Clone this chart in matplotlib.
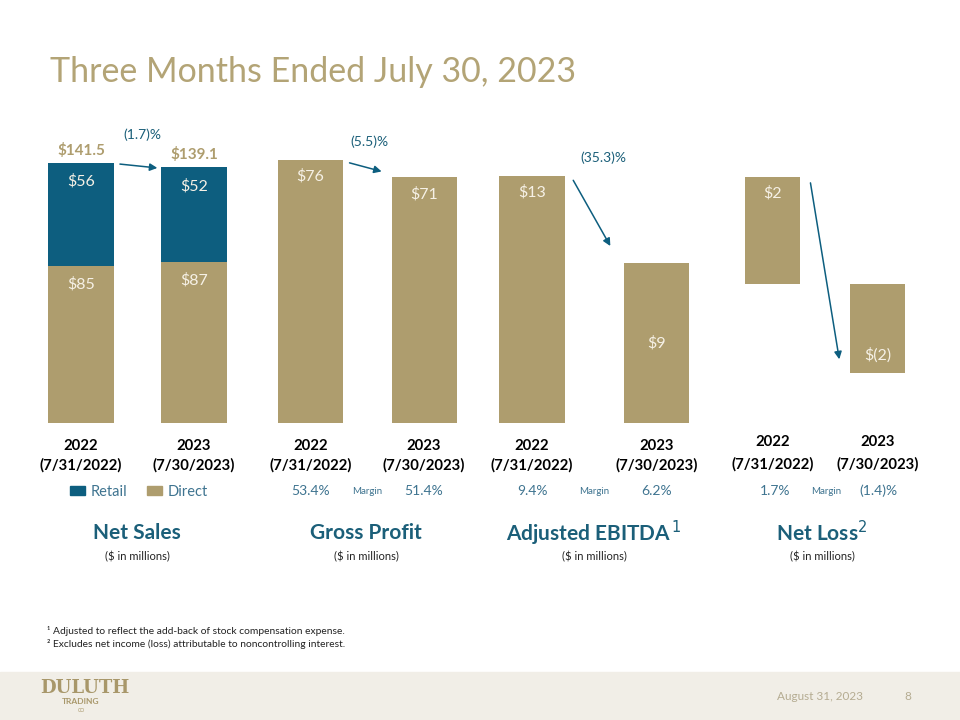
import matplotlib
matplotlib.use("Agg")
import matplotlib.pyplot as plt
import matplotlib.patches as mpatches

plt.rcParams['font.family'] = ['Lato', 'DejaVu Sans']

TAN = '#AE9D6E'
BLUE = '#0D5E7F'
TEAL = '#1B5F79'
PCT = '#3F7490'
INNER = '#F6F1E6'

# ---------------- data ----------------
periods = ["2022\n(7/31/2022)", "2023\n(7/30/2023)"]

sales_retail = [56, 52]
sales_direct = [85, 87]
sales_total = [141.5, 139.1]
sales_change = "(1.7)%"

gross_profit = [76, 71]
gross_margin = ["53.4%", "51.4%"]
gross_change = "(5.5)%"

adj_ebitda = [13.3, 8.6]
ebitda_labels = ["$13", "$9"]
ebitda_margin = ["9.4%", "6.2%"]
ebitda_change = "(35.3)%"

net_loss = [2.4, -2.0]
loss_labels = ["$2", "$(2)"]
loss_margin = ["1.7%", "(1.4)%"]

panel_titles = ["Net Sales", "Gross Profit", "Adjusted EBITDA$^{\\,1}$", "Net Loss$^{2}$"]

# ---------------- figure ----------------
W, H = 960, 720
fig = plt.figure(figsize=(9.6, 7.2), dpi=100)


def px_axes(x0, x1, y_top, y_bot):
    ax = fig.add_axes([x0 / W, 1 - y_bot / H, (x1 - x0) / W, (y_bot - y_top) / H])
    for s in ax.spines.values():
        s.set_visible(False)
    ax.set_yticks([])
    ax.tick_params(axis='x', length=0, pad=11.5)
    return ax


def set_ticks(ax, ls=1.45):
    ax.set_xticks([0, 1])
    ax.set_xticklabels(periods, fontsize=10.7, fontweight='bold', color='black', linespacing=ls)


def inner(ax, x, y, txt, dy):
    ax.annotate(txt, (x, y), xytext=(0, dy), textcoords='offset points',
                ha='center', va='center', color=INNER, fontsize=11.5)


def arrow(ax, p0, p1):
    ax.annotate('', xy=p1, xytext=p0,
                arrowprops=dict(arrowstyle='-|>', color=BLUE, lw=1.1, mutation_scale=11))


def margin_row(y_px, xc, left, right):
    fig.text(xc[0] / W, 1 - y_px / H, left, ha='center', va='center', color=PCT, fontsize=10)
    fig.text((xc[0] + xc[1]) / 2 / W, 1 - y_px / H, "Margin", ha='center', va='center',
             color=PCT, fontsize=7)
    fig.text(xc[1] / W, 1 - y_px / H, right, ha='center', va='center', color=PCT, fontsize=10)


# Panel 1 - Net Sales
ax1 = px_axes(25, 250, 140, 423)
ax1.set_xlim(-0.496, 1.496)
ax1.set_ylim(0, 153.4)
x = [0, 1]
ax1.bar(x, sales_direct, width=0.584, color=TAN)
ax1.bar(x, sales_retail, width=0.584, bottom=sales_direct, color=BLUE)
for i in x:
    inner(ax1, i, sales_total[i], f"${sales_retail[i]}", -14)
    inner(ax1, i, sales_direct[i], f"${sales_direct[i]}", -13)
    ax1.annotate(f"${sales_total[i]}", (i, sales_total[i]), xytext=(0, 8.5),
                 textcoords='offset points', ha='center', va='center',
                 color=TAN, fontsize=11, fontweight='bold')
arrow(ax1, (0.32, sales_total[0] - 1), (0.70, sales_total[1] - 1))
ax1.text(0.54, 156, sales_change, ha='center', va='center', color=TEAL, fontsize=10)
set_ticks(ax1)

# Panel 2 - Gross Profit
ax2 = px_axes(255, 480, 140, 423)
ax2.set_xlim(-0.489, 1.493)
ax2.set_ylim(0, 81.8)
ax2.bar(x, gross_profit, width=0.573, color=TAN)
for i in x:
    inner(ax2, i, gross_profit[i], f"${gross_profit[i]}", -12)
arrow(ax2, (0.32, gross_profit[0] - 0.6), (0.65, gross_profit[1] + 1.5))
ax2.text(0.52, 81.2, gross_change, ha='center', va='center', color=TEAL, fontsize=10)
set_ticks(ax2)

# Panel 3 - Adjusted EBITDA
ax3 = px_axes(485, 715, 140, 423)
ax3.set_xlim(-0.378, 1.47)
ax3.set_ylim(0, 15.24)
ax3.bar(x, adj_ebitda, width=0.53, color=TAN)
inner(ax3, 0, adj_ebitda[0], ebitda_labels[0], -12)
inner(ax3, 1, adj_ebitda[1] / 2, ebitda_labels[1], 0)
arrow(ax3, (0.32, adj_ebitda[0] - 0.1), (0.64, adj_ebitda[1] + 0.8))
ax3.text(0.57, 14.3, ebitda_change, ha='center', va='center', color=TEAL, fontsize=10)
set_ticks(ax3)

# Panel 4 - Net Loss
ax4 = px_axes(720, 950, 140, 423)
ax4.set_xlim(-0.5, 1.69)
ax4.set_ylim(-3.117, 3.23)
ax4.bar(x, net_loss, width=0.524, color=TAN)
inner(ax4, 0, net_loss[0], loss_labels[0], -12)
inner(ax4, 1, net_loss[1], loss_labels[1], 13)
arrow(ax4, (0.357, net_loss[0] - 0.07), (0.64, net_loss[1] + 0.25))
set_ticks(ax4, ls=1.7)
ax4.tick_params(axis='x', pad=9)

# legend for net sales
handles = [mpatches.Patch(color=BLUE, label='Retail'), mpatches.Patch(color=TAN, label='Direct')]
fig.legend(handles=handles, loc='center', bbox_to_anchor=(139 / W, 1 - 492 / H), ncol=2,
           frameon=False, fontsize=10.5, labelcolor=PCT, handlelength=1.0, handleheight=0.6,
           handletextpad=0.4, columnspacing=1.4)

# margin rows
margin_row(491, (310.5, 424), gross_margin[0], gross_margin[1])
margin_row(491, (532, 656.5), ebitda_margin[0], ebitda_margin[1])
margin_row(491, (775, 878), loss_margin[0], loss_margin[1])

# panel titles
title_x = [137, 366, 594, 822]
for tx, tt in zip(title_x, panel_titles):
    fig.text(tx / W, 1 - 533 / H, tt, ha='center', va='center', color=TEAL,
             fontsize=15, fontweight='bold')
    fig.text(tx / W, 1 - 557 / H, "($ in millions)", ha='center', va='center',
             color='#222222', fontsize=8)

# slide title
fig.text(50 / W, 1 - 72 / H, "Three Months Ended July 30, 2023", ha='left', va='center',
         color='#B3A476', fontsize=24.5)

# footnotes
fig.text(47 / W, 1 - 631 / H, "¹ Adjusted to reflect the add-back of stock compensation expense.",
         ha='left', va='center', color='#222222', fontsize=7.4)
fig.text(47 / W, 1 - 644 / H, "² Excludes net income (loss) attributable to noncontrolling interest.",
         ha='left', va='center', color='#222222', fontsize=7.4)

# footer band
fig.patches.append(mpatches.Rectangle((0, 0), 1, 48 / H, transform=fig.transFigure,
                                      color='#F1EEE7', zorder=0))
fig.text(40 / W, 1 - 688 / H, "DULUTH", ha='left', va='center', color='#A8976A',
         fontsize=13, fontweight='bold', family=['DejaVu Serif'])
fig.text(81 / W, 1 - 702 / H, "TRADING", ha='center', va='center', color='#A8976A',
         fontsize=6, fontweight='bold')
fig.text(81 / W, 1 - 711 / H, "CO", ha='center', va='center', color='#A8976A', fontsize=3.5)
fig.text(820 / W, 1 - 697 / H, "August 31, 2023", ha='center', va='center',
         color='#B5AC92', fontsize=8.5)
fig.text(908 / W, 1 - 697 / H, "8", ha='center', va='center', color='#B5AC92', fontsize=8.5)

fig.savefig("out.png", dpi=100, facecolor='white')
